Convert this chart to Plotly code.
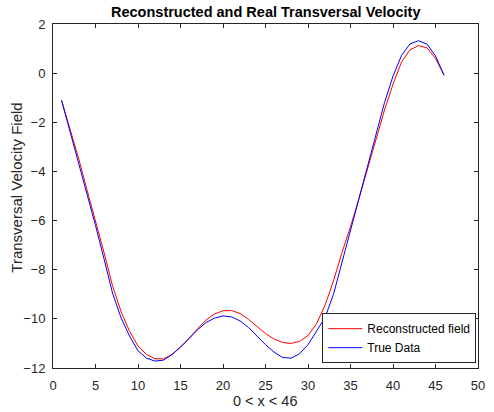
import plotly.graph_objects as go

x_vals = list(range(1, 47))

true_data = [-1.1, -2.35, -3.6, -4.9, -6.2, -7.55, -8.95, -9.95, -10.7, -11.3,
             -11.6, -11.72, -11.68, -11.45, -11.15, -10.8, -10.45, -10.15, -9.97, -9.88,
             -9.92, -10.08, -10.35, -10.7, -11.05, -11.35, -11.57, -11.6, -11.42, -11.05,
             -10.5, -9.95, -9.0, -7.7, -6.35, -5.05, -3.75, -2.45, -1.2, -0.12,
             0.72, 1.19, 1.32, 1.18, 0.7, -0.08]

reconstructed = [-1.1, -2.25, -3.45, -4.75, -6.0, -7.3, -8.65, -9.7, -10.5, -11.1,
                 -11.45, -11.62, -11.63, -11.45, -11.15, -10.8, -10.4, -10.05, -9.8, -9.67,
                 -9.66, -9.78, -10.02, -10.32, -10.6, -10.82, -10.96, -11.0, -10.92, -10.68,
                 -10.2, -9.45, -8.45, -7.3, -6.25, -5.1, -3.9, -2.7, -1.5, -0.45,
                 0.45, 0.95, 1.12, 1.03, 0.6, -0.08]

x_ticks = [0, 5, 10, 15, 20, 25, 30, 35, 40, 45, 50]
y_ticks = [-12, -10, -8, -6, -4, -2, 0, 2]

title_text = "Reconstructed and Real Transversal Velocity"
x_label = "0 < x < 46"
y_label = "Transversal Velocity Field"

axis_color = "#262626"
font_family = "Liberation Sans, Arial, sans-serif"

fig = go.Figure()
fig.add_trace(go.Scatter(x=x_vals, y=reconstructed, mode="lines", name="Reconstructed field",
                         line=dict(color="#FF0000", width=1)))
fig.add_trace(go.Scatter(x=x_vals, y=true_data, mode="lines", name="True Data",
                         line=dict(color="#0000FF", width=1)))

axis_common = dict(showgrid=False, zeroline=False, showline=True, linecolor=axis_color,
                   linewidth=1, mirror="ticks", ticks="inside", ticklen=4,
                   tickcolor=axis_color, tickfont=dict(family=font_family, size=13, color=axis_color))

fig.update_layout(
    width=494, height=412,
    margin=dict(l=53, r=9, t=24, b=44),
    paper_bgcolor="white", plot_bgcolor="white",
    font=dict(family=font_family, color=axis_color),
    xaxis=dict(range=[0, 50], tickvals=x_ticks, ticklabelstandoff=5, **axis_common),
    yaxis=dict(range=[-12, 2], tickvals=y_ticks, ticklabelstandoff=4, **axis_common),
    showlegend=True,
    legend=dict(x=0.996, y=0.014, xanchor="right", yanchor="bottom",
                bordercolor=axis_color, borderwidth=1, bgcolor="white",
                font=dict(family=font_family, size=12, color="black"),
                tracegroupgap=0, itemwidth=34),
    annotations=[
        dict(text="<b>" + title_text + "</b>", x=0.5, y=1.035, xref="paper", yref="paper",
             xanchor="center", yanchor="middle", showarrow=False,
             font=dict(family=font_family, size=14.5, color="black")),
        dict(text=x_label, x=0.5, y=-0.095, xref="paper", yref="paper",
             xanchor="center", yanchor="middle", showarrow=False,
             font=dict(family=font_family, size=14.5, color=axis_color)),
        dict(text=y_label, x=-0.088, y=0.523, xref="paper", yref="paper",
             xanchor="center", yanchor="middle", showarrow=False, textangle=-90,
             font=dict(family=font_family, size=15, color=axis_color)),
    ],
)

fig.write_html("out.html")
